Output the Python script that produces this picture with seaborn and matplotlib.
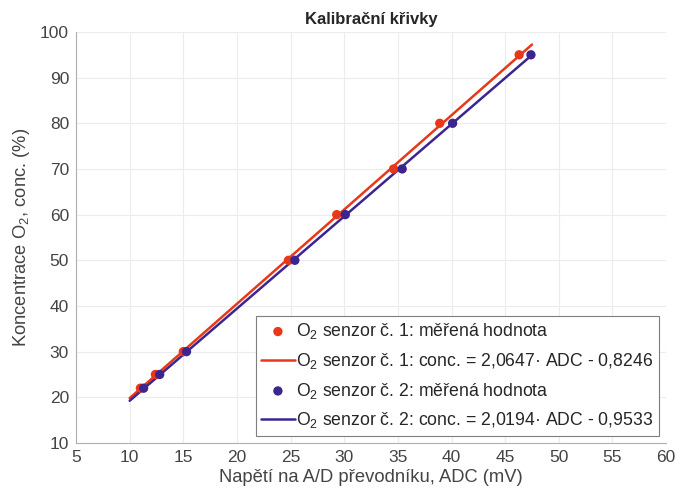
import numpy as np
import pandas as pd
import matplotlib
matplotlib.use("Agg")
import matplotlib.pyplot as plt
import seaborn as sns

# measured points (ADC in mV, concentration in %)
conc = [22, 25, 30, 50, 60, 70, 80, 95]
adc_s1 = [11.0, 12.4, 15.0, 24.8, 29.3, 34.6, 38.9, 46.3]
adc_s2 = [11.3, 12.8, 15.3, 25.4, 30.1, 35.4, 40.1, 47.4]

# fit coefficients from the legend
k1, q1 = 2.0647, -0.8246
k2, q2 = 2.0194, -0.9533
fit_x = [10, 47.5]

red = "#e8381a"
blue = "#3d2590"

sns.set_style("white")
plt.rcParams['font.family'] = ['Liberation Sans', 'DejaVu Sans']
plt.rcParams['mathtext.fontset'] = 'custom'
plt.rcParams['mathtext.rm'] = 'Liberation Sans'
plt.rcParams['mathtext.it'] = 'Liberation Sans:italic'

df1 = pd.DataFrame({"adc": adc_s1, "conc": conc})
df2 = pd.DataFrame({"adc": adc_s2, "conc": conc})
fit1 = pd.DataFrame({"adc": fit_x, "conc": [k1 * x + q1 for x in fit_x]})
fit2 = pd.DataFrame({"adc": fit_x, "conc": [k2 * x + q2 for x in fit_x]})

fig = plt.figure(figsize=(6.91, 4.97), dpi=100)
ax = fig.add_axes([0.110, 0.1087, 0.854, 0.827])

sns.scatterplot(ax=ax, data=df1, x="adc", y="conc", color=red, s=45, edgecolor="none",
                label="O$_2$ senzor č. 1: měřená hodnota", zorder=3)
sns.lineplot(ax=ax, data=fit1, x="adc", y="conc", color=red, lw=1.8,
             label="O$_2$ senzor č. 1: conc. = 2,0647· ADC - 0,8246", zorder=2)
sns.scatterplot(ax=ax, data=df2, x="adc", y="conc", color=blue, s=45, edgecolor="none",
                label="O$_2$ senzor č. 2: měřená hodnota", zorder=3)
sns.lineplot(ax=ax, data=fit2, x="adc", y="conc", color=blue, lw=1.8,
             label="O$_2$ senzor č. 2: conc. = 2,0194· ADC - 0,9533", zorder=2)

ax.set_xlim(5, 60)
ax.set_ylim(10, 100)
ax.set_xticks(range(5, 61, 5))
ax.set_yticks(range(10, 101, 10))
ax.grid(True, color="#ececec", lw=0.8)
ax.set_axisbelow(True)
for s in ["top", "right"]:
    ax.spines[s].set_visible(False)
for s in ["left", "bottom"]:
    ax.spines[s].set_color("#b0b0b0")
    ax.spines[s].set_linewidth(0.8)
ax.tick_params(direction="in", length=4, color="#b0b0b0", labelsize=12.5,
               labelcolor="#444444", pad=5)

ax.set_xlabel("Napětí na A/D převodníku, ADC (mV)", fontsize=13.2, color="#444444", labelpad=3)
ax.set_ylabel("Koncentrace O$_2$, conc. (%)", fontsize=13.2, color="#444444", labelpad=6)
ax.set_title("Kalibrační křivky", fontsize=12, fontweight="bold", pad=6)

leg = ax.legend(loc="lower right", fontsize=12.7, frameon=True, fancybox=False,
                edgecolor="#7f7f7f", framealpha=1, borderpad=0.3, labelspacing=0.55,
                handlelength=1.9, handletextpad=0.1, borderaxespad=0.42)
leg.get_frame().set_linewidth(0.8)

fig.savefig("out.png", dpi=100)
